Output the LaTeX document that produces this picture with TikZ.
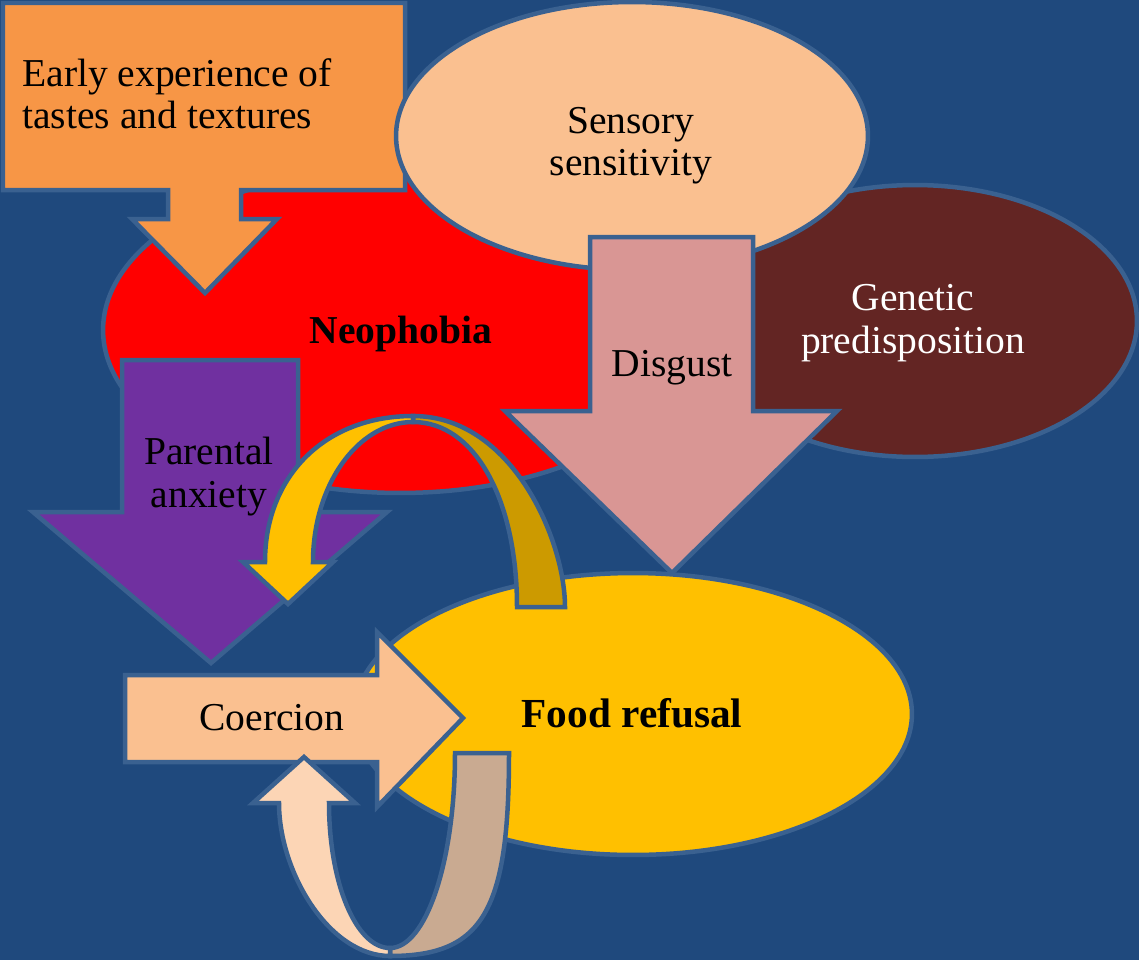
\documentclass[tikz,border=0pt]{standalone}
\usepackage{fontspec}
\setmainfont{Liberation Serif}
\usetikzlibrary{shapes.geometric}
\definecolor{bg}{HTML}{1F497D}
\definecolor{edge}{HTML}{3A6190}
\definecolor{orangeA}{HTML}{F79646}
\definecolor{peachA}{HTML}{FAC090}
\definecolor{brownA}{HTML}{632523}
\definecolor{pinkA}{HTML}{D99694}
\definecolor{purpleA}{HTML}{7030A0}
\definecolor{yellowA}{HTML}{FFC000}
\definecolor{goldA}{HTML}{CC9A00}
\definecolor{lightpeach}{HTML}{FCD5B5}
\definecolor{tanA}{HTML}{C9AA91}
\tikzset{
  shapeline/.style={draw=edge, line width=0.09cm, line join=miter},
  ell/.style={shapeline, ellipse, inner sep=0pt, outer sep=0pt},
  lbl/.style={anchor=base, inner sep=0pt, font=\fontsize{22.5pt}{26pt}\selectfont, text=black},
}
\begin{document}
\begin{tikzpicture}[x=0.02cm, y=-0.02cm]
\useasboundingbox (0,0) rectangle (1139,960);
\fill[bg] (0,0) rectangle (1139,960);

% Neophobia ellipse
\node[ell, fill=red, minimum width=11.88cm, minimum height=6.52cm] (neo) at (400,330) {};
% Genetic predisposition ellipse
\node[ell, fill=brownA, minimum width=8.88cm, minimum height=5.44cm] (gen) at (915,321) {};
% Early experience arrow
\draw[shapeline, fill=orangeA] (3,3) -- (405,3) -- (405,190) -- (241,190) -- (241,219) -- (277,219)
  -- (205,293) coordinate (earlytip) -- (132,219) -- (168,219) -- (168,190) -- (3,190) -- cycle;
% Sensory sensitivity ellipse
\node[ell, fill=peachA, minimum width=9.44cm, minimum height=5.36cm] (sens) at (632,136) {};
% Disgust arrow
\draw[shapeline, fill=pinkA] (590,237) -- (753,237) -- (753,411) -- (837,411) -- (672,573) coordinate (disgtip)
  -- (505,411) -- (590,411) -- cycle;
% Food refusal ellipse
\node[ell, fill=yellowA, minimum width=11.16cm, minimum height=5.64cm] (food) at (633,714) {};
% Parental anxiety arrow
\draw[shapeline, fill=purpleA] (122,360) -- (298,360) -- (298,512) -- (387,512) -- (211,663) coordinate (partip)
  -- (33,512) -- (122,512) -- cycle;
% Top curved arrow: back band
\draw[shapeline, fill=goldA] (517,607) .. controls (517,500) and (475,422) .. (413,422)
  -- (413,416) .. controls (512,416) and (565,540) .. (565,607) -- cycle;
% Top curved arrow: front band with head
\draw[shapeline, fill=yellowA] (413,416) .. controls (325,416) and (265,476) .. (265,562)
  -- (243,562) -- (288,604) coordinate (looptip) -- (333,562) -- (313,562)
  .. controls (313,485) and (358,422) .. (413,422) -- cycle;
% Coercion arrow
\draw[shapeline, fill=peachA] (125,675) -- (377,675) -- (377,632) -- (463,718) coordinate (coertip)
  -- (377,807) -- (377,762) -- (125,762) -- cycle;
% Bottom curved arrow: back band
\draw[shapeline, fill=tanA] (455,753) .. controls (455,861) and (426,948) .. (390,948)
  -- (390,956) .. controls (483,956) and (509,911) .. (509,753) -- cycle;
% Bottom curved arrow: front band with head
\draw[shapeline, fill=lightpeach] (390,956) .. controls (329,956) and (279,872) .. (279,803)
  -- (253,803) -- (304,757) coordinate (uptip) -- (355,803) -- (329,803)
  .. controls (329,883) and (356,948) .. (390,948) -- cycle;

% Labels
\node[lbl, anchor=base west] (early1) at (22,86) {Early experience of};
\node[lbl, anchor=base west] (early2) at (22,128) {tastes and textures};
\node[lbl] (sens1) at (631,133) {Sensory};
\node[lbl] (sens2) at (631,175) {sensitivity};
\node[lbl, text=white] (gen1) at (913,310) {Genetic};
\node[lbl, text=white] (gen2) at (913,353) {predisposition};
\node[lbl, font=\fontsize{22.5pt}{26pt}\selectfont\bfseries] (neotext) at (401,343) {Neophobia};
\node[lbl] (disg) at (672,376) {Disgust};
\node[lbl] (par1) at (209,464) {Parental};
\node[lbl] (par2) at (209,507) {anxiety};
\node[lbl] (coer) at (272,730) {Coercion};
\node[lbl, font=\fontsize{23.5pt}{27pt}\selectfont\bfseries] (foodtext) at (632,727) {Food refusal};
\end{tikzpicture}
\end{document}
